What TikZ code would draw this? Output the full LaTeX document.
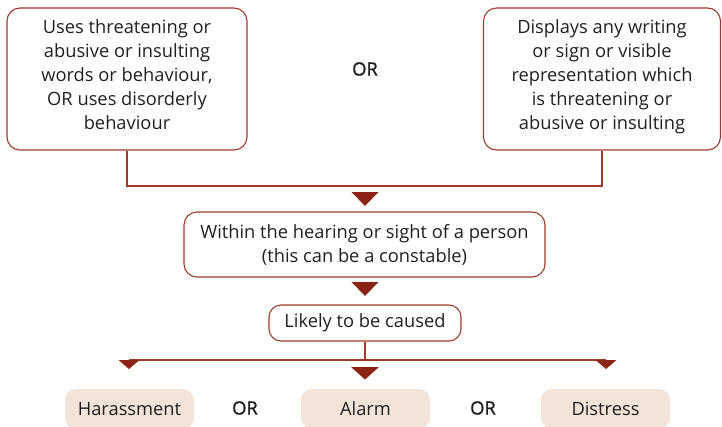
\documentclass[tikz,border=0pt]{standalone}
\usepackage{fontspec}
\setmainfont{Open Sans}
\newfontfamily\orfont{Open Sans}[FakeBold=1.2]
\definecolor{linec}{HTML}{9E3B2B}
\definecolor{arrowc}{HTML}{8B2414}
\definecolor{fillc}{HTML}{F3E4DA}
\definecolor{textc}{HTML}{231F20}
\begin{document}
\begin{tikzpicture}[x=1pt,y=-1pt,
  every node/.style={text=textc, font=\fontsize{18.3}{24}\selectfont},
  box/.style={draw=linec, line width=1.1pt, rounded corners=13pt, align=center, inner sep=0pt},
  res/.style={fill=fillc, rounded corners=11pt, minimum width=129pt, minimum height=40pt, inner sep=0pt},
  conn/.style={draw=linec, line width=1.1pt},
  ortext/.style={font=\fontsize{18.3}{24}\orfont},
  tri/.style={fill=arrowc}]
\useasboundingbox (0,0) rectangle (722,426);
\node[box, minimum width=240pt, minimum height=142pt, text depth=9pt] (tl) at (127,79)
  {Uses threatening or\\abusive or insulting\\words or behaviour,\\OR uses disorderly\\behaviour};
\node[box, minimum width=237pt, minimum height=142pt, text depth=9pt] (tr) at (602,79)
  {Displays any writing\\or sign or visible\\representation which\\is threatening or\\abusive or insulting};
\node[ortext] (or1) at (365,69) {OR};
\coordinate (j) at (365,186);
\draw[conn] (tl.south) -- (tl.south |- j) -- (tr.south |- j) -- (tr.south);
\node[box, minimum width=361pt, minimum height=65pt] (mid) at (364.5,244.5)
  {Within the hearing or sight of a person\\(this can be a constable)};
\node[box, minimum width=192pt, minimum height=36pt, rounded corners=12pt] (lk) at (365,323) {Likely to be caused};
\coordinate (a1) at (365,192);
\coordinate (a2) at (365,282);
\coordinate (a3) at (365,367);
\fill[tri] (a1) ++(-13.5,0) -- ++(27,0) -- ++(-13.5,14) -- cycle;
\fill[tri] (a2) ++(-13.5,0) -- ++(27,0) -- ++(-13.5,14) -- cycle;
\fill[tri] (a3) ++(-14,0) -- ++(28,0) -- ++(-14,12.5) -- cycle;
\coordinate (hl) at (129,360);
\coordinate (hr) at (606,360);
\draw[conn] (lk.south) -- (lk.south |- hl);
\draw[conn] (hl) -- (hr);
\fill[tri] (hl) ++(-10.5,0) -- ++(21,0) -- ++(-10.5,9) -- cycle;
\fill[tri] (hr) ++(-10.5,0) -- ++(21,0) -- ++(-10.5,9) -- cycle;
\node[res] (h) at (129.5,409) {Harassment};
\node[res] (a) at (365.5,409) {Alarm};
\node[res] (d) at (605.5,409) {Distress};
\node[ortext] (or2) at (245,408) {OR};
\node[ortext] (or3) at (483,408) {OR};
\end{tikzpicture}
\end{document}
